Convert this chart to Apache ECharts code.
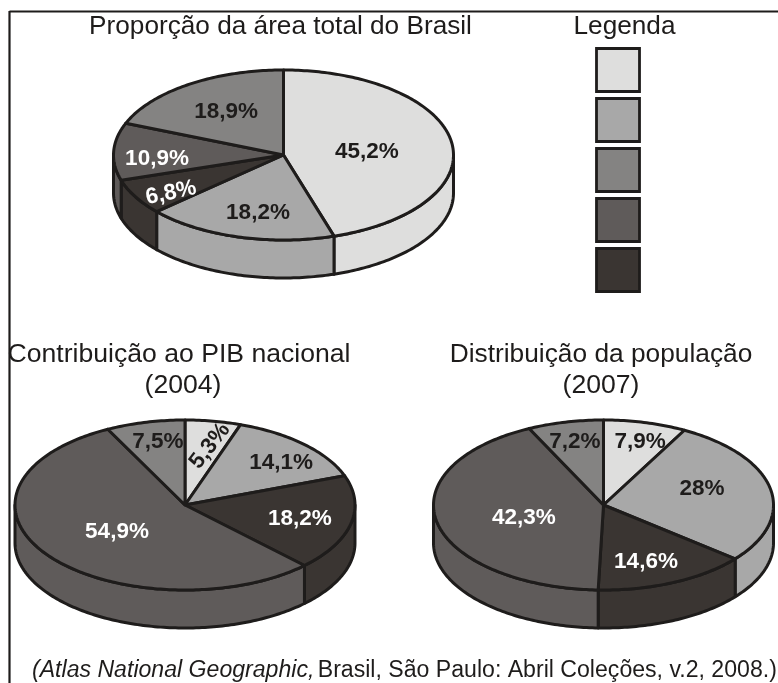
<!DOCTYPE html>
<html><head><meta charset="utf-8">
<style>html,body{margin:0;padding:0;background:#fff}#c{width:778px;height:683px}</style>
<script src="https://cdn.jsdelivr.net/npm/echarts@6/dist/echarts.min.js"></script>
</head><body><div id="c"></div>
<script>
// --- data ---
const shades = ['#dededd', '#a8a8a8', '#848382', '#5f5b5a', '#3a3532'];
const legendOrder = [0, 1, 2, 3, 4];
const areaValues = [45.2, 18.2, 6.8, 10.9, 18.9];
const areaShades = [0, 1, 4, 3, 2];
const areaLabels = ['45,2%', '18,2%', '6,8%', '10,9%', '18,9%'];
const pibValues = [5.3, 14.1, 18.2, 54.9, 7.5];
const pibShades = [0, 1, 4, 3, 2];
const pibLabels = ['5,3%', '14,1%', '18,2%', '54,9%', '7,5%'];
const popValues = [7.9, 28, 14.6, 42.3, 7.2];
const popShades = [0, 1, 4, 3, 2];
const popLabels = ['7,9%', '28%', '14,6%', '42,3%', '7,2%'];

// --- layout and style ---
const FONT = '"Liberation Sans", Arial, sans-serif';
const INK = '#1e1c1b';
const DEPTH = 38 / 85;            // wall height, in units of the ellipse's vertical radius
const STROKE = 3;
const labelColor = [INK, INK, INK, '#fff', '#fff'];
const pies = [
  { values: areaValues, shades: areaShades, labels: areaLabels, left: 113.5, top: 70, width: 340, height: 170,
    at: [[.491,.047],[-.15,-.671],[-.662,-.435],[-.744,-.035],[-.338,.518]], rot: [0,0,12,0,0] },
  { values: pibValues, shades: pibShades, labels: pibLabels, left: 15, top: 420, width: 340, height: 170,
    at: [[.147,.706],[.565,.506],[.676,-.153],[-.4,-.306],[-.159,.753]], rot: [52,0,0,0,0] },
  { values: popValues, shades: popShades, labels: popLabels, left: 433.5, top: 420, width: 340, height: 170,
    at: [[.215,.753],[.579,.2],[.25,-.659],[-.468,-.141],[-.168,.753]], rot: [0,0,0,0,0] }
];

function cumulative(vals) {
  const total = vals.reduce((a, b) => a + b, 0);
  let run = 0;
  return vals.map(v => { const s = run / total; run += v; return [s * 360, run / total * 360]; });
}
function arc(api, a0, a1, dv) {
  const pts = [];
  const n = Math.max(2, Math.ceil(Math.abs(a1 - a0)));
  for (let k = 0; k <= n; k++) {
    const a = (a0 + (a1 - a0) * k / n) * Math.PI / 180;
    pts.push(api.coord([Math.sin(a), Math.cos(a) - dv]));
  }
  return pts;
}
function wallItem(pie, spans) {
  return function (params, api) {
    const i = api.value(1);
    const a0 = Math.max(spans[i][0], 90), a1 = Math.min(spans[i][1], 270);
    if (a1 <= a0) return { type: 'group', children: [] };
    const pts = arc(api, a0, a1, 0).concat(arc(api, a1, a0, DEPTH));
    return { type: 'polygon', shape: { points: pts },
      style: { fill: shades[pie.shades[i]], stroke: INK, lineWidth: STROKE, lineJoin: 'round' } };
  };
}
function topItem(pie, spans) {
  return function (params, api) {
    const i = api.value(1);
    const pts = [api.coord([0, 0])].concat(arc(api, spans[i][0], spans[i][1], 0));
    const p = api.coord(pie.at[i]);
    return { type: 'group', children: [
      { type: 'polygon', shape: { points: pts },
        style: { fill: shades[pie.shades[i]], stroke: INK, lineWidth: STROKE, lineJoin: 'round' } },
      { type: 'text', x: p[0], y: p[1] + 1, rotation: pie.rot[i] * Math.PI / 180, z2: 10,
        style: { text: pie.labels[i], fill: labelColor[pie.shades[i]], font: 'bold 22.5px ' + FONT,
                 textAlign: 'center', textVerticalAlign: 'middle' } }
    ] };
  };
}

const grid = [], xAxis = [], yAxis = [], series = [];
pies.forEach((pie, g) => {
  const spans = cumulative(pie.values);
  grid.push({ left: pie.left, top: pie.top, width: pie.width, height: pie.height });
  xAxis.push({ gridIndex: g, type: 'value', min: -1, max: 1, show: false });
  yAxis.push({ gridIndex: g, type: 'value', min: -1, max: 1, show: false });
  const data = pie.values.map((v, i) => [v, i]);
  series.push({ type: 'custom', xAxisIndex: g, yAxisIndex: g, z: 2, clip: false, silent: true, animation: false,
    renderItem: wallItem(pie, spans), data });
  series.push({ type: 'custom', xAxisIndex: g, yAxisIndex: g, z: 3, clip: false, silent: true, animation: false,
    renderItem: topItem(pie, spans), data });
});

function txt(text, x, y, size) {
  return { type: 'text', x, y, z: 5, silent: true,
    style: { text, fill: INK, font: size + 'px ' + FONT, textAlign: 'center', textVerticalAlign: 'middle' } };
}
const graphic = [
  { type: 'line', z: 1, silent: true, shape: { x1: 9.5, y1: 11.5, x2: 778, y2: 11.5 }, style: { stroke: INK, lineWidth: 2 } },
  { type: 'line', z: 1, silent: true, shape: { x1: 9.5, y1: 11, x2: 9.5, y2: 683 }, style: { stroke: INK, lineWidth: 2.2 } },
  txt('Proporção da área total do Brasil', 280.5, 27, 26.2),
  txt('Legenda', 624.5, 27, 26.2),
  txt('Contribuição ao PIB nacional', 179, 355, 26.6),
  txt('(2004)', 183, 386, 26.6),
  txt('Distribuição da população', 601, 355, 26.3),
  txt('(2007)', 601, 386, 26.6),
  { type: 'text', x: 32, y: 671, z: 5, silent: true,
    style: { text: '{i|(Atlas National Geographic,} {n|Brasil, São Paulo: Abril Coleções, v.2, 2008.)}',
      textAlign: 'left', textVerticalAlign: 'middle',
      rich: { i: { font: 'italic 23.1px ' + FONT, fill: INK }, n: { font: '23.1px ' + FONT, fill: INK } } } }
].concat(legendOrder.map((s, k) => ({
  type: 'rect', z: 5, silent: true,
  shape: { x: 596.5, y: 48.5 + k * 50, width: 43, height: 43 },
  style: { fill: shades[s], stroke: INK, lineWidth: 2.8 }
})));

const chart = echarts.init(document.getElementById('c'), null, { renderer: 'canvas' });
chart.setOption({ backgroundColor: '#fff', animation: false, grid, xAxis, yAxis, series, graphic });
</script></body></html>
